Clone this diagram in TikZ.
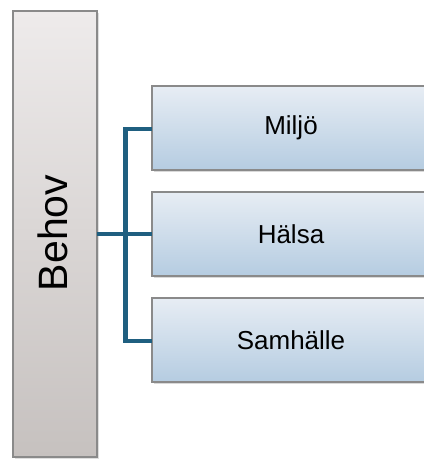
\documentclass[tikz,border=0pt]{standalone}
\usepackage{fontspec}
\setmainfont{Liberation Sans}
\usetikzlibrary{shadows}
\definecolor{linecol}{HTML}{1F5F80}
\definecolor{bordcol}{HTML}{8A8A8A}
\definecolor{greytop}{HTML}{EEEBEB}
\definecolor{greybot}{HTML}{C6C1BF}
\definecolor{bluetop}{HTML}{E7EDF4}
\definecolor{bluebot}{HTML}{B5CCE1}
\tikzset{
  leftbox/.style={draw=bordcol, line width=1.2pt, top color=greytop, bottom color=greybot,
    drop shadow={shadow xshift=1.5pt, shadow yshift=-1.5pt, opacity=0.25}},
  itembox/.style={draw=bordcol, line width=1.2pt, top color=bluetop, bottom color=bluebot,
    drop shadow={shadow xshift=1.5pt, shadow yshift=-1.5pt, opacity=0.3}},
  conn/.style={draw=linecol, line width=4.5pt},
  itemtext/.style={font=\fontsize{26}{26}\selectfont},
}
\begin{document}
\begin{tikzpicture}[x=1pt,y=-1pt]
\useasboundingbox (0,0) rectangle (424,459);
\begin{scope}
\clip (0,0) rectangle (424,459);
\path[leftbox] (13,11) rectangle (97,457);
\node[rotate=90, font=\fontsize{41}{41}\selectfont, inner sep=0pt] (behov) at (53,233) {Behov};
\coordinate (bR) at (97,234);
\path[itembox] (152,86) rectangle (432,170);
\path[itembox] (152,192) rectangle (432,276);
\path[itembox] (152,298) rectangle (432,382);
\coordinate (m) at (152,129);
\coordinate (h) at (152,234);
\coordinate (s) at (152,341);
\node[itemtext] (miljo) at (291,128) {Miljö};
\node[itemtext] (halsa) at (291,234) {Hälsa};
\node[itemtext] (samh) at (291,340) {Samhälle};
\coordinate (v) at (125.5,234);
\draw[conn] (bR) -- (h);
\draw[conn, line join=miter] (m) -| (v) |- (s);
\end{scope}
\end{tikzpicture}
\end{document}
